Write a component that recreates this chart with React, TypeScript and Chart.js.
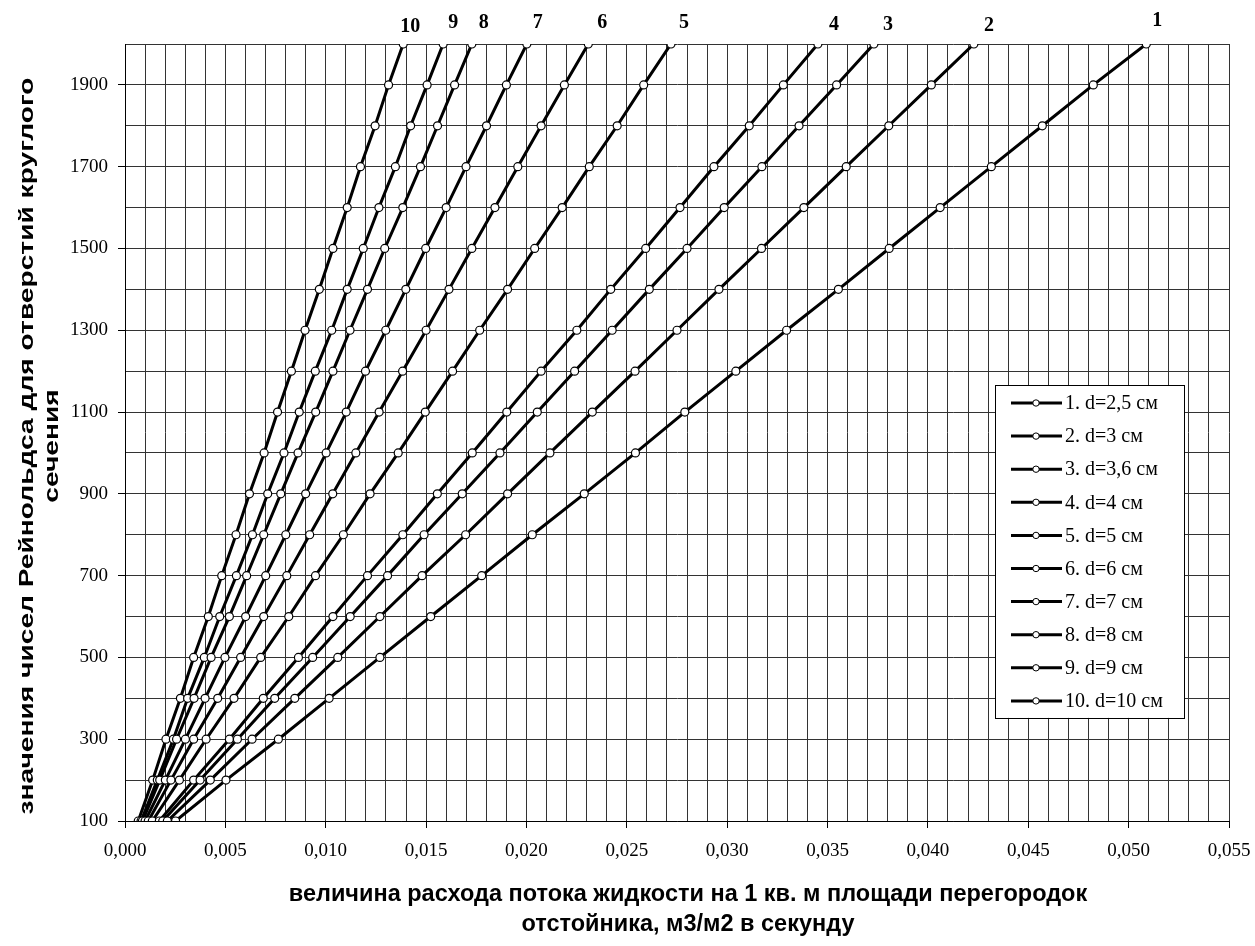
import React, { useEffect, useRef } from "react";
import { Chart, registerables } from "chart.js";

Chart.register(...registerables);

// Reynolds numbers (y axis)
const reynolds = [100, 200, 300, 400, 500, 600, 700, 800, 900, 1000, 1100, 1200, 1300, 1400, 1500, 1600, 1700, 1800, 1900, 2000];

// Flow per 1 m2 of partitions, m3/m2 per second (x axis), one list per hole diameter
const q1 = [0.00252, 0.00503, 0.00764, 0.01017, 0.0127, 0.01523, 0.01777, 0.02029, 0.02288, 0.02543, 0.02789, 0.03043, 0.03296, 0.03554, 0.03807, 0.04061, 0.04316, 0.0457, 0.04824, 0.05088];
const q2 = [0.00211, 0.00425, 0.00633, 0.00846, 0.0106, 0.0127, 0.0148, 0.01697, 0.01906, 0.02117, 0.02328, 0.02541, 0.0275, 0.02959, 0.03171, 0.03382, 0.03593, 0.03805, 0.04017, 0.04229];
const q3 = [0.00188, 0.00374, 0.0056, 0.00746, 0.00935, 0.01122, 0.01308, 0.0149, 0.0168, 0.01868, 0.02054, 0.0224, 0.02427, 0.02612, 0.028, 0.02985, 0.03173, 0.03358, 0.03545, 0.03731];
const q4 = [0.00171, 0.00342, 0.0052, 0.00689, 0.00864, 0.01036, 0.01208, 0.01384, 0.01556, 0.0173, 0.01902, 0.02073, 0.02251, 0.0242, 0.02594, 0.02765, 0.02934, 0.0311, 0.0328, 0.03452];
const q5 = [0.00136, 0.00271, 0.00404, 0.00543, 0.00676, 0.00816, 0.00949, 0.01088, 0.01221, 0.01361, 0.01496, 0.01632, 0.01767, 0.01906, 0.02041, 0.02178, 0.02313, 0.02452, 0.02584, 0.0272];
const q6 = [0.00116, 0.00229, 0.00342, 0.00462, 0.00576, 0.00691, 0.00806, 0.0092, 0.01035, 0.0115, 0.01266, 0.01383, 0.015, 0.01614, 0.01728, 0.01843, 0.01957, 0.02073, 0.02189, 0.02308];
const q7 = [0.001, 0.00201, 0.00301, 0.00399, 0.00498, 0.00601, 0.00701, 0.00801, 0.009, 0.01002, 0.01102, 0.01198, 0.01299, 0.01399, 0.01498, 0.016, 0.01699, 0.01801, 0.019, 0.02002];
const q8 = [0.00087, 0.00173, 0.00257, 0.00344, 0.00429, 0.0052, 0.00606, 0.00691, 0.00776, 0.00862, 0.0095, 0.01036, 0.01121, 0.01208, 0.01294, 0.01384, 0.01472, 0.01557, 0.01642, 0.01728];
const q9 = [0.0008, 0.00161, 0.00241, 0.00312, 0.00395, 0.00472, 0.00555, 0.00635, 0.00711, 0.00792, 0.00868, 0.00948, 0.0103, 0.01107, 0.01187, 0.01265, 0.01347, 0.01423, 0.01505, 0.01585];
const q10 = [0.00066, 0.00138, 0.00204, 0.00276, 0.00342, 0.00415, 0.00482, 0.00553, 0.0062, 0.00693, 0.0076, 0.00829, 0.00897, 0.00968, 0.01036, 0.01107, 0.01173, 0.01246, 0.01313, 0.01386];

const seriesValues = [q1, q2, q3, q4, q5, q6, q7, q8, q9, q10];
const seriesLabels = ["1. d=2,5 см", "2. d=3 см", "3. d=3,6 см", "4. d=4 см", "5. d=5 см", "6. d=6 см", "7. d=7 см", "8. d=8 см", "9. d=9 см", "10. d=10 см"];
const endLabels = ["1", "2", "3", "4", "5", "6", "7", "8", "9", "10"];

const xTitle = ["величина расхода потока жидкости на 1 кв. м площади перегородок", "отстойника, м3/м2 в секунду"];
const yTitle = ["значения чисел Рейнольдса для отверстий круглого", "сечения"];

const X_MIN = 0;
const X_MAX = 0.055;
const X_STEP = 0.001;
const Y_MIN = 100;
const Y_MAX = 2000;
const Y_STEP = 100;

const SERIF = '"Liberation Serif", "Times New Roman", serif';
const SANS = '"Liberation Sans", Arial, sans-serif';

// small nudges of the end-of-line number labels (pixels), as placed in the original
const endLabelNudge: [number, number][] = [
  [11, -23], [15, -18], [14, -19], [16, -19], [13, -21],
  [14, -21], [11, -21], [12, -21], [10, -21], [7, -17],
];

const isMajorX = (v: number) => Math.round(v * 1000) % 5 === 0;
const isMajorY = (v: number) => Math.round(v / 100) % 2 === 1;

const decorPlugin = {
  id: "decor",
  afterDatasetsDraw(chart: any) {
    const ctx = chart.ctx as CanvasRenderingContext2D;
    ctx.save();
    ctx.fillStyle = "#000";
    ctx.font = `bold 20px ${SERIF}`;
    ctx.textAlign = "center";
    ctx.textBaseline = "middle";
    chart.data.datasets.forEach((_ds: any, i: number) => {
      const meta = chart.getDatasetMeta(i);
      const last = meta.data[meta.data.length - 1];
      if (!last) return;
      const [dx, dy] = endLabelNudge[i];
      ctx.fillText(endLabels[i], last.x + dx, last.y + dy);
    });
    ctx.restore();
  },
  afterDraw(chart: any) {
    const ctx = chart.ctx as CanvasRenderingContext2D;
    const area = chart.chartArea;

    // legend box inside the plot
    const boxW = 189;
    const left = area.right - 45 - boxW;
    const top = 385;
    const rowH = 33.1;
    const boxH = 18 + 9 * rowH + 17;
    ctx.save();
    ctx.fillStyle = "#fff";
    ctx.fillRect(left, top, boxW, boxH);
    ctx.strokeStyle = "#000";
    ctx.lineWidth = 1;
    ctx.strokeRect(left + 0.5, top + 0.5, boxW, Math.round(boxH));
    ctx.font = `20px ${SERIF}`;
    ctx.textAlign = "left";
    ctx.textBaseline = "middle";
    seriesLabels.forEach((lab, i) => {
      const y = top + 18 + i * rowH;
      ctx.strokeStyle = "#000";
      ctx.lineWidth = 3;
      ctx.beginPath();
      ctx.moveTo(left + 16, y);
      ctx.lineTo(left + 67, y);
      ctx.stroke();
      ctx.beginPath();
      ctx.arc(left + 41, y, 3.2, 0, Math.PI * 2);
      ctx.fillStyle = "#fff";
      ctx.fill();
      ctx.lineWidth = 1;
      ctx.stroke();
      ctx.fillStyle = "#000";
      ctx.fillText(lab, left + 70, y + 1);
    });
    ctx.restore();

    // x axis title
    ctx.save();
    ctx.fillStyle = "#000";
    ctx.font = `bold 23.5px ${SANS}`;
    ctx.textAlign = "center";
    ctx.textBaseline = "middle";
    ctx.fillText(xTitle[0], 688, 895);
    ctx.fillText(xTitle[1], 688, 925);
    ctx.restore();

    // y axis title (rotated)
    ctx.save();
    ctx.fillStyle = "#000";
    ctx.font = `bold 21px ${SANS}`;
    ctx.textAlign = "center";
    ctx.textBaseline = "middle";
    const w = ctx.measureText(yTitle[0]).width;
    const stretch = 737 / w;
    ctx.translate(27, 446);
    ctx.rotate(-Math.PI / 2);
    ctx.scale(stretch, 1);
    ctx.fillText(yTitle[0], 0, 0);
    ctx.fillText(yTitle[1], 0, 25);
    ctx.restore();
  },
};

export default function App() {
  const ref = useRef<HTMLCanvasElement>(null);

  useEffect(() => {
    if (!ref.current) return;
    const datasets = seriesValues.map((vals, i) => ({
      label: seriesLabels[i],
      data: vals.map((v, j) => ({ x: v, y: reynolds[j] })),
      borderColor: "#000",
      borderWidth: 3,
      pointRadius: 4,
      pointBorderWidth: 1.2,
      pointBackgroundColor: "#fff",
      pointBorderColor: "#000",
      fill: false,
      tension: 0,
    }));

    const chart = new Chart(ref.current, {
      type: "line",
      data: { datasets },
      options: {
        animation: false,
        responsive: false,
        devicePixelRatio: 1,
        layout: { padding: { top: 44, right: 26, left: 0, bottom: 0 } },
        plugins: {
          legend: { display: false },
          tooltip: { enabled: false },
        },
        scales: {
          x: {
            type: "linear",
            min: X_MIN,
            max: X_MAX,
            afterFit: (s: any) => {
              s.height = 125;
              s.paddingLeft = 0;
              s.paddingRight = 0;
            },
            ticks: {
              stepSize: X_STEP,
              autoSkip: false,
              maxRotation: 0,
              minRotation: 0,
              padding: 12,
              color: "#000",
              font: { family: SERIF, size: 19 },
              callback: (v: any) => (isMajorX(Number(v)) ? Number(v).toFixed(3).replace(".", ",") : ""),
            },
            grid: {
              color: "#333",
              lineWidth: 1,
              tickLength: 7,
              tickColor: (c: any) => (c.tick && isMajorX(c.tick.value) ? "#000" : "rgba(0,0,0,0)"),
            },
            border: { display: true, color: "#000", width: 1 },
          },
          y: {
            type: "linear",
            min: Y_MIN,
            max: Y_MAX,
            afterFit: (s: any) => {
              s.width = 125;
              s.paddingTop = 0;
              s.paddingBottom = 0;
            },
            ticks: {
              stepSize: Y_STEP,
              autoSkip: false,
              padding: 10,
              color: "#000",
              font: { family: SERIF, size: 19 },
              callback: (v: any) => (isMajorY(Number(v)) ? String(v) : ""),
            },
            grid: {
              color: "#333",
              lineWidth: 1,
              tickLength: 7,
              tickColor: (c: any) => (c.tick && isMajorY(c.tick.value) ? "#000" : "rgba(0,0,0,0)"),
            },
            border: { display: true, color: "#000", width: 1 },
          },
        },
      },
      plugins: [decorPlugin],
    });
    return () => chart.destroy();
  }, []);

  return (
    <div style={{ position: "fixed", left: 0, top: 0, width: 1255, height: 946, background: "#fff" }}>
      <canvas ref={ref} width={1255} height={946} style={{ display: "block" }} />
    </div>
  );
}
